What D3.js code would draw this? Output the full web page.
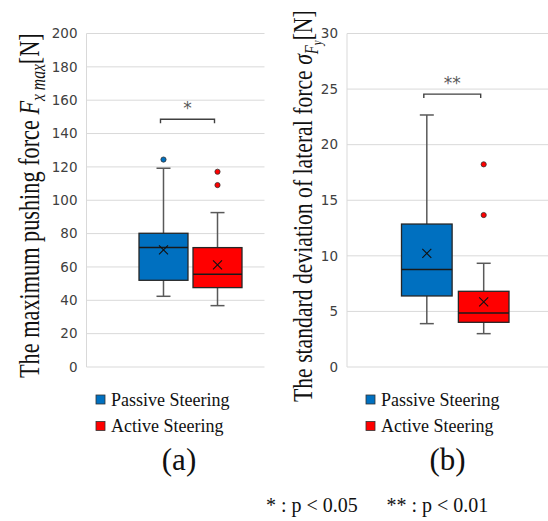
<!DOCTYPE html>
<html><head><meta charset="utf-8">
<script src="https://cdn.jsdelivr.net/npm/d3@7"></script>
<style>body{margin:0;background:#fff}svg{display:block}</style>
</head><body>
<svg id="c" width="548" height="521"></svg>
<script>
// ---------- data ----------
const groups = ["Passive Steering", "Active Steering"];
const colors = ["#0070C0", "#FF0000"];

// (a) maximum pushing force Fx_max [N]
const fxTicks = [0, 20, 40, 60, 80, 100, 120, 140, 160, 180, 200];
const fxMin = [42.4, 36.8];
const fxQ1 = [52.0, 47.6];
const fxMedian = [71.6, 55.6];
const fxQ3 = [80.2, 71.6];
const fxMax = [119.2, 92.6];
const fxMean = [70.2, 61.2];
const fxOutliers = [[124.4], [117.1, 109.1]];
const fxSigLevel = 148.6;
const fxSigLabel = "*";

// (b) standard deviation of lateral force sigma_Fy [N]
const sdTicks = [0, 5, 10, 15, 20, 25, 30];
const sdMin = [3.9, 3.0];
const sdQ1 = [6.39, 4.02];
const sdMedian = [8.78, 4.86];
const sdQ3 = [12.86, 6.81];
const sdMax = [22.67, 9.33];
const sdMean = [10.22, 5.85];
const sdOutliers = [[], [18.23, 13.67]];
const sdSigLevel = 24.55;
const sdSigLabel = "**";

const legendLabels = groups;
const panelLabels = ["(a)", "(b)"];
const footnotes = ["* : p < 0.05", "** : p < 0.01"];

// ---------- drawing ----------
const svg = d3.select("#c");
const SERIF = "'Liberation Serif','Times New Roman',serif";
const SANS = "'DejaVu Sans',Verdana,sans-serif";

function panel(o) {
  const g = svg.append("g");
  const y = d3.scaleLinear().domain([0, d3.max(o.ticks)]).range([367, 33.5]);
  const x = d3.scaleBand().domain(groups).range(o.boxRange).paddingInner(o.pad);
  const bw = x.bandwidth();

  // gridlines
  g.selectAll(".grid").data(o.ticks).join("line")
    .attr("x1", o.plotLeft).attr("x2", o.gridRight)
    .attr("y1", d => y(d)).attr("y2", d => y(d))
    .attr("stroke", "#d9d9d9").attr("stroke-width", 1);
  g.append("line").attr("x1", o.plotLeft).attr("x2", o.plotLeft)
    .attr("y1", y(0)).attr("y2", y(d3.max(o.ticks)))
    .attr("stroke", "#d9d9d9").attr("stroke-width", 1);

  // axis labels
  const ax = g.append("g").attr("transform", `translate(${o.plotLeft},0)`)
    .call(d3.axisLeft(y).tickValues(o.ticks).tickSize(0).tickPadding(9));
  ax.select(".domain").remove();
  ax.selectAll("text").attr("font-family", SANS).attr("font-size", 13.5).attr("fill", "#404040");

  groups.forEach((grp, i) => {
    const cx = x(grp) + bw / 2;
    const wg = g.append("g");
    // whiskers
    wg.append("line").attr("x1", cx).attr("x2", cx).attr("y1", y(o.max[i])).attr("y2", y(o.q3[i]))
      .attr("stroke", "#595959").attr("stroke-width", 1.5);
    wg.append("line").attr("x1", cx).attr("x2", cx).attr("y1", y(o.q1[i])).attr("y2", y(o.min[i]))
      .attr("stroke", "#595959").attr("stroke-width", 1.5);
    [o.max[i], o.min[i]].forEach(v => {
      wg.append("line").attr("x1", cx - 7).attr("x2", cx + 7).attr("y1", y(v)).attr("y2", y(v))
        .attr("stroke", "#595959").attr("stroke-width", 1.5);
    });
    // box
    wg.append("rect").attr("x", x(grp)).attr("y", y(o.q3[i])).attr("width", bw)
      .attr("height", y(o.q1[i]) - y(o.q3[i]))
      .attr("fill", colors[i]).attr("stroke", "#262626").attr("stroke-width", 1.3);
    wg.append("line").attr("x1", x(grp)).attr("x2", x(grp) + bw)
      .attr("y1", y(o.median[i])).attr("y2", y(o.median[i]))
      .attr("stroke", "#1a1a1a").attr("stroke-width", 1.5);
    // mean marker
    const my = y(o.mean[i]);
    wg.append("path").attr("d", `M${cx - 4.5},${my - 4.5}L${cx + 4.5},${my + 4.5}M${cx - 4.5},${my + 4.5}L${cx + 4.5},${my - 4.5}`)
      .attr("stroke", "#111").attr("stroke-width", 1.1).attr("fill", "none");
    // outliers
    wg.selectAll(".out").data(o.outliers[i]).join("circle")
      .attr("cx", cx).attr("cy", d => y(d)).attr("r", 2.6)
      .attr("fill", colors[i]).attr("stroke", "#333").attr("stroke-width", 0.8);
  });

  // significance bracket
  const c0 = x(groups[0]) + bw / 2 - 3, c1 = x(groups[1]) + bw / 2 - 3;
  const sy = y(o.sig);
  g.append("path").attr("d", `M${c0},${sy + 4}V${sy}H${c1}V${sy + 4}`)
    .attr("fill", "none").attr("stroke", "#404040").attr("stroke-width", 1.4);
  g.append("text").attr("x", (c0 + c1) / 2).attr("y", sy - 5)
    .attr("text-anchor", "middle").attr("font-family", SANS).attr("font-size", 17)
    .attr("fill", "#595959").text(o.sigLabel);

  // legend
  legendLabels.forEach((lab, i) => {
    const ly = 395 + i * 26.5;
    g.append("rect").attr("x", o.legendX).attr("y", ly).attr("width", 9).attr("height", 9)
      .attr("fill", colors[i]).attr("stroke", "#333").attr("stroke-width", 0.8);
    g.append("text").attr("x", o.legendX + 15).attr("y", ly + 10.5)
      .attr("font-family", SERIF).attr("font-size", 18).attr("fill", "#111").text(lab);
  });
  g.append("text").attr("x", o.labelX).attr("y", 470).attr("text-anchor", "middle")
    .attr("font-family", SERIF).attr("font-size", 31).attr("fill", "#111").text(o.panelLabel);

  // rotated title, fitted to length
  const t = g.append("text").attr("font-family", SERIF).attr("font-size", o.titleSize).attr("fill", "#111");
  o.title(t);
  const len = t.node().getComputedTextLength();
  const k = o.titleLen / len;
  t.attr("transform", `translate(${o.titleX},${o.titleY}) rotate(-90) scale(${k},1)`);
}

panel({
  ticks: fxTicks, min: fxMin, q1: fxQ1, median: fxMedian, q3: fxQ3, max: fxMax,
  mean: fxMean, outliers: fxOutliers, sig: fxSigLevel, sigLabel: fxSigLabel,
  plotLeft: 86.5, gridRight: 264.5, boxRange: [139, 242], pad: 0.093,
  legendX: 96, labelX: 179, panelLabel: panelLabels[0],
  titleSize: 30, titleX: 38.5, titleY: 378, titleLen: 345,
  title: t => {
    t.append("tspan").text("The maximum pushing force ");
    t.append("tspan").attr("font-style", "italic").text("F");
    t.append("tspan").attr("font-style", "italic").attr("font-size", 21).attr("dy", 6).text("x max");
    t.append("tspan").attr("dy", -6).text("[N]");
  }
});

panel({
  ticks: sdTicks, min: sdMin, q1: sdQ1, median: sdMedian, q3: sdQ3, max: sdMax,
  mean: sdMean, outliers: sdOutliers, sig: sdSigLevel, sigLabel: sdSigLabel,
  plotLeft: 347, gridRight: 548, boxRange: [401.5, 509], pad: 0.11,
  legendX: 366, labelX: 447.5, panelLabel: panelLabels[1],
  titleSize: 28, titleX: 312, titleY: 402, titleLen: 392,
  title: t => {
    t.append("tspan").text("The standard deviation of lateral force ");
    t.append("tspan").attr("font-style", "italic").text("σ");
    t.append("tspan").attr("font-style", "italic").attr("font-size", 19).attr("dy", 6).text("F");
    t.append("tspan").attr("font-style", "italic").attr("font-size", 14).attr("dy", 4).text("y");
    t.append("tspan").attr("font-size", 28).attr("dy", -10).text("[N]");
  }
});

// footnotes
svg.append("text").attr("x", 266).attr("y", 511.5).attr("font-family", SERIF)
  .attr("font-size", 20).attr("fill", "#111").text(footnotes[0]);
svg.append("text").attr("x", 386.5).attr("y", 511.5).attr("font-family", SERIF)
  .attr("font-size", 20).attr("fill", "#111").text(footnotes[1]);
</script>
</body></html>
